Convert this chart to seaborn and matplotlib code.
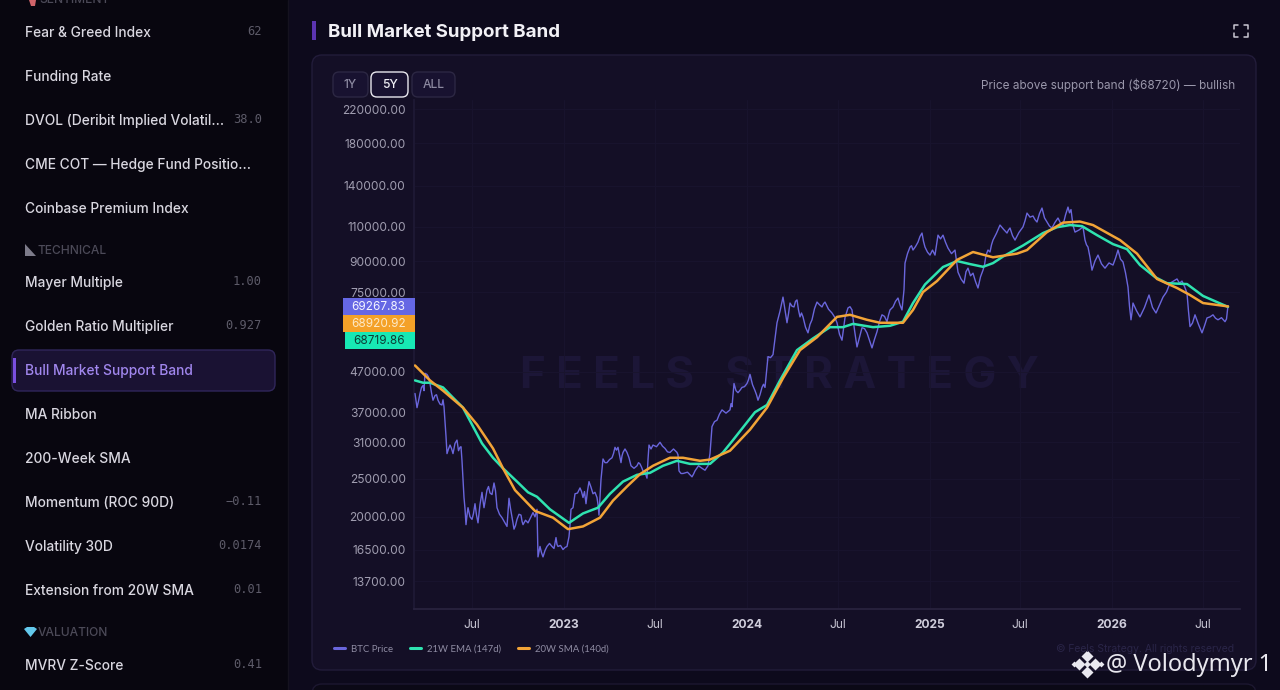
import numpy as np
import pandas as pd
import matplotlib
matplotlib.use("Agg")
import matplotlib.pyplot as plt
import matplotlib.dates as mdates
from matplotlib.patches import FancyBboxPatch, Rectangle, Polygon
from matplotlib.ticker import FixedLocator, FixedFormatter, NullLocator
import seaborn as sns

START = "2022-03-07"

price_days = [2,6,12,18,22,26,32,38,42,48,56,60,64,66,72,78,86,92,96,100,104,108,116,122,128,136,140,146,152,160,166,176,186,190,196,200,206,214,218,228,238,246,248,252,258,266,276,284,288,298,306,310,314,318,322,332,338,344,350,358,366,370,374,378,386,396,402,408,414,418,426,434,446,452,458,466,470,478,492,502,512,526,530,538,556,562,576,588,596,606,616,632,636,640,648,656,666,672,682,688,696,702,708,718,726,738,746,752,760,766,772,778,788,796,806,816,822,836,846,856,868,876,886,896,906,916,926,936,946,952,958,968,976,980,982,992,998,1008,1016,1022,1032,1042,1048,1058,1068,1082,1088,1100,1108,1118,1128,1138,1144,1152,1158,1172,1186,1192,1202,1218,1226,1238,1246,1256,1266,1276,1288,1298,1308,1314,1322,1338,1342,1348,1356,1368,1382,1398,1408,1418,1428,1434,1438,1452,1470,1484,1498,1512,1526,1536,1546,1552,1562,1576,1586,1598,1608,1622,1628]
price_values = [41300,38000,41300,43300,46500,46200,43800,39700,40800,39700,38600,38200,32100,29000,30500,29000,31400,30100,27800,22400,19100,21100,19700,21600,19300,23100,21100,23400,23000,24400,21100,19900,18900,22300,20000,18600,19700,20200,19100,19300,20500,20900,15800,16800,15800,16800,16800,17700,16800,16500,16800,17800,20900,21100,22900,23700,22400,21600,24600,22900,22400,20200,24900,28100,27500,28300,30100,30100,27500,29200,29200,27000,27000,27300,26200,25100,30500,30500,31000,29900,29200,29200,26200,25800,25300,26200,26600,27000,34000,35300,37500,37500,38200,43800,41500,42800,43800,46200,42000,39700,42800,42800,51300,51900,62600,72800,62600,70300,68700,71600,64800,64800,59000,63700,70700,68700,70700,66300,62600,56500,68300,67500,54300,60800,59000,54000,59400,65600,63000,67500,68700,72400,67500,76000,88900,97700,96000,100600,106100,97700,93200,93200,104800,104800,97100,96000,84300,79000,86300,83800,76800,85300,93200,94900,101800,111200,106100,109300,101800,110000,119300,117300,113200,122900,113200,109300,115900,111200,123600,121800,106700,110000,101800,97700,85300,93200,86300,87900,96000,89500,77200,63700,70300,64800,73700,66300,72800,79000,81000,80000,74500,61200,65600,59000,64400,65600,63700,63000,69268]

# finer wiggles of the price line, read between the turning points above
price_more_days = [
    9,15,20,29,35,45,52,58,69,75,
    82,89,94,102,106,112,119,125,132,138,
    143,149,156,163,171,181,188,193,198,203,
    210,216,223,233,242,255,262,271,280,286,
    293,302,312,320,327,335,341,347,354,362,
    368,376,382,391,399,405,411,416,422,430,
    440,449,455,462,468,474,485,497,507,519,
    528,534,547,552,559,569,582,592,601,611,
    624,634,644,652,661,669,677,685,692,699,
    705,713,722,732,742,749,756,763,769,775,
    783,792,801,811,819,829,841,851,862,872,
    881,891,901,911,921,931,941,949,963,972,
    987,995,1003,1012,1019,1027,1037,1045,1053,1063,
    1075,1085,1094,1104,1113,1123,1133,1141,1148,1155,
    1165,1179,1189,1197,1210,1222,1232,1242,1251,1261,
    1271,1282,1293,1303,1311,1318,1330,1345,1352,1362,
    1375,1390,1403,1413,1423,1431,1436,1445,1461,1477,
    1491,1505,1519,1531,1541,1549,1557,1569,1581,1592,
    1603,1615,1625]
price_more_values = [
    39500,42800,42000,45500,41500,41000,38800,39800,29800,29900,
    30800,29500,30200,21000,20200,20000,20400,20200,21500,22000,
    22200,23900,22800,23300,20300,19400,20500,21000,19300,19000,
    20300,19500,19600,19900,20000,16200,16400,17100,16600,17000,
    16900,16700,19000,22000,23000,23200,23200,23300,23800,23100,
    21500,26500,27500,28000,29000,29600,28800,28600,29800,28300,
    26600,27500,26800,26000,28000,29800,30200,30300,29300,29800,
    28800,25800,26000,25600,25700,27000,26300,29000,35000,36600,
    36800,38900,42000,42100,43000,44800,43500,41000,41000,43600,
    47000,51000,57000,67000,67500,66000,69000,71000,67500,66300,
    61000,62000,68000,69600,70000,67800,64800,58500,64500,68800,
    60000,57500,60500,56500,56800,63000,65000,65500,71000,69500,
    94000,98500,98000,104000,101000,94800,96000,99000,102500,100500,
    94000,90000,81000,84500,82500,79800,82000,88000,96000,99000,
    106000,108500,108000,104500,106500,114000,116500,114800,119000,116000,
    110500,113000,112500,118000,119500,111000,108000,99000,92000,90000,
    88500,89000,91500,91000,84000,69000,66500,67200,68500,68500,
    69500,75000,80000,79000,77500,67000,62500,62000,61500,64800,
    64300,64500,64000]

ema_days = [2,18,32,58,78,98,116,136,158,178,206,228,246,272,310,338,368,392,418,446,472,498,526,552,592,618,638,682,706,732,766,798,832,858,878,918,952,978,998,1022,1058,1086,1112,1138,1158,1178,1218,1258,1286,1312,1336,1366,1398,1426,1452,1482,1506,1546,1578,1628]
ema_values = [44600,44000,44000,42800,40300,38000,34400,30800,28300,26600,24600,23100,22500,20900,19300,20400,21100,22900,24600,25600,25900,27000,27800,27300,27300,29200,31400,37000,38600,44600,53300,57100,61000,61000,62200,61000,61500,63000,70300,78400,86900,90000,88400,87000,88900,92400,98600,106100,109800,111200,110500,104800,99400,96500,87900,81900,79000,78600,73300,68720]

sma_days = [2,32,58,98,126,158,178,202,242,278,308,338,372,398,426,452,478,512,538,572,592,632,672,706,738,772,806,846,872,906,932,978,998,1018,1046,1086,1118,1158,1206,1226,1266,1298,1332,1358,1412,1446,1486,1526,1552,1578,1628]
sma_values = [48700,44600,42000,38000,34400,29900,26600,23400,20700,19900,18600,18900,19900,22000,23900,25700,27000,28300,28300,27800,28000,29500,33400,38000,45200,53300,57500,64800,65600,63700,62600,62600,67500,75000,80000,90600,94900,92000,94000,96000,106700,112800,113500,111200,101800,94000,81000,76800,73700,70300,68921]

y_ticks = [13700,16500,20000,25000,31000,37000,47000,75000,90000,110000,140000,180000,220000]
x_tick_dates = ["2022-07-01","2023-01-01","2023-07-01","2024-01-01","2024-07-01","2025-01-01","2025-07-01","2026-01-01","2026-07-01"]
x_tick_labels = ["Jul","2023","Jul","2024","Jul","2025","Jul","2026","Jul"]
series_names = ["BTC Price","21W EMA (147d)","20W SMA (140d)"]
last_values = ["69267.83","68920.92","68719.86"]

menu_items = ["Fear & Greed Index","Funding Rate","DVOL (Deribit Implied Volatil...","CME COT — Hedge Fund Positio...","Coinbase Premium Index","Mayer Multiple","Golden Ratio Multiplier","Bull Market Support Band","MA Ribbon","200-Week SMA","Momentum (ROC 90D)","Volatility 30D","Extension from 20W SMA","MVRV Z-Score"]
menu_values = ["62","","38.0","","","1.00","0.927","","","","−0.11","0.0174","0.01","0.41"]
menu_y = [32,76,120,164,208,282,326,370,414,458,502,546,590,665]

C_PRICE, C_EMA, C_SMA = "#6a66dc", "#2fe3b0", "#f2a437"

sns.set_theme(style="dark")
plt.rcParams["font.family"] = ["Inter", "DejaVu Sans"]
plt.rcParams["axes.unicode_minus"] = False

def px(s):
    return s * 72 / 100

fig = plt.figure(figsize=(12.8, 6.9), dpi=100, facecolor="#07060f")
bg = fig.add_axes([0, 0, 1, 1], zorder=0)
bg.set_xlim(0, 1280); bg.set_ylim(690, 0); bg.axis("off")

bg.add_patch(Rectangle((288, 0), 992, 690, fc="#0d0a1c", ec="none"))
bg.add_patch(Rectangle((0, 0), 287, 690, fc="#08060f", ec="none"))
bg.plot([287.5, 287.5], [0, 690], color="#15121f", lw=1)
bg.add_patch(FancyBboxPatch((312, 55), 944, 615, boxstyle="round,pad=0,rounding_size=10", fc="#140f26", ec="#221c3a", lw=1))
bg.add_patch(FancyBboxPatch((312, 684), 944, 20, boxstyle="round,pad=0,rounding_size=10", fc="#0b0916", ec="#1c1730", lw=1))

# sidebar
bg.text(39, 0, "SENTIMENT", color="#4c4a58", fontsize=px(12), weight="medium", va="center")
bg.add_patch(Polygon([(29, 0), (36, 0), (35, 6), (31, 6)], fc="#d0646a", ec="none"))
bg.add_patch(FancyBboxPatch((12, 350), 263, 41, boxstyle="round,pad=0,rounding_size=7", fc="#1a1233", ec="#30265a", lw=1))
bg.add_patch(Rectangle((13, 358), 3, 25, fc="#7a4fe0", ec="none"))
for name, val, y in zip(menu_items, menu_values, menu_y):
    active = name == "Bull Market Support Band"
    bg.text(25, y + 1.3, name, color="#a187ee" if active else "#d9d7e0", fontsize=px(13.8), weight="medium", va="center", ha="left")
    if val:
        bg.text(262, y - 0.5, val, color="#5d5b69", fontsize=px(12), family="DejaVu Sans Mono", va="center", ha="right")
bg.add_patch(Polygon([(25, 244), (25, 256), (36, 256)], fc="#7d7b8a", ec="none"))
bg.text(38, 250.5, "TECHNICAL", color="#4c4a58", fontsize=px(12), weight="medium", va="center")
bg.add_patch(Polygon([(24, 629), (27, 627), (34, 627), (37, 629), (30.5, 637)], fc="#63c8ec", ec="none"))
bg.text(38, 632.5, "VALUATION", color="#4c4a58", fontsize=px(12), weight="medium", va="center")

# header
bg.add_patch(Rectangle((312, 21), 4, 19, fc="#5b34b0", ec="none"))
bg.text(328, 32.5, "Bull Market Support Band", color="#f2f1f6", fontsize=px(18.7), weight="bold", va="center")
for xs, ys in [((1234, 1234, 1238), (29, 25, 25)), ((1244, 1248, 1248), (25, 25, 29)),
               ((1234, 1234, 1238), (33, 37, 37)), ((1244, 1248, 1248), (37, 37, 33))]:
    bg.plot(xs, ys, color="#c9c8d2", lw=1.1)

# range buttons
for label, x0, w, active in [("1Y", 333, 35, False), ("5Y", 371, 37, True), ("ALL", 412, 43, False)]:
    bg.add_patch(FancyBboxPatch((x0, 72), w, 25, boxstyle="round,pad=0,rounding_size=6",
                                fc="#181230", ec="#e8e7ee" if active else "#2c2743", lw=1))
    bg.text(x0 + w / 2, 85, label, color="#f0eff5" if active else "#8c89a0", fontsize=px(12), weight="medium", ha="center", va="center")
bg.text(1235, 85.5, "Price above support band ($68720) — bullish", color="#9a97ab", fontsize=px(11.8), ha="right", va="center")

# chart
ax = fig.add_axes([414 / 1280, (690 - 609) / 690, 826 / 1280, 509 / 690], zorder=2)
ax.patch.set_alpha(0)

def to_dates(days):
    return pd.Timestamp(START) + pd.to_timedelta(np.array(days), unit="D")

all_days = np.array(price_days + price_more_days)
all_values = np.array(price_values + price_more_values)
order = np.argsort(all_days)

ax.text(0.443, 0.456, "F E E L S   S T R A T E G Y", transform=ax.transAxes, color="#1c1637",
        fontsize=px(44), weight="bold", ha="center", va="center", zorder=0)
sns.lineplot(x=to_dates(all_days[order]), y=all_values[order], ax=ax, color=C_PRICE, lw=1.0, label=series_names[0], estimator=None, zorder=3)
sns.lineplot(x=to_dates(ema_days), y=ema_values, ax=ax, color=C_EMA, lw=1.8, label=series_names[1], estimator=None, zorder=4)
sns.lineplot(x=to_dates(sma_days), y=sma_values, ax=ax, color=C_SMA, lw=1.8, label=series_names[2], estimator=None, zorder=5)

ax.set_yscale("log")
ax.set_ylim(11630, 232000)
ax.set_xlim(pd.Timestamp(START), pd.Timestamp(START) + pd.Timedelta(days=1652))
ax.yaxis.set_major_locator(FixedLocator(y_ticks))
ax.yaxis.set_major_formatter(FixedFormatter([f"{v:.2f}" for v in y_ticks]))
ax.yaxis.set_minor_locator(NullLocator())
ax.xaxis.set_major_locator(FixedLocator(mdates.date2num(pd.to_datetime(x_tick_dates))))
ax.xaxis.set_major_formatter(FixedFormatter(x_tick_labels))
ax.tick_params(axis="y", length=0, pad=6, labelsize=px(12), labelcolor="#a09db0")
ax.tick_params(axis="x", length=0, pad=7, labelsize=px(12), labelcolor="#c4c2d0")
for lab, txt in zip(ax.get_xticklabels(), x_tick_labels):
    if txt != "Jul":
        lab.set_fontweight("bold")
        lab.set_color("#d0cedc")
ax.grid(True, color="#19142e", lw=0.7)
ax.set_axisbelow(True)
ax.set_xlabel(""); ax.set_ylabel("")
for side in ("top", "right"):
    ax.spines[side].set_visible(False)
ax.spines["left"].set_color("#1f1a35")
ax.spines["bottom"].set_color("#29233f")

leg = ax.legend(loc="center left", bbox_to_anchor=(334 / 1280, (690 - 649) / 690), bbox_transform=fig.transFigure,
                ncol=3, frameon=False, prop={"family": "Lato", "size": px(9.7)},
                handlelength=1.15, handletextpad=0.6, columnspacing=1.75, borderpad=0, borderaxespad=0)
for line in leg.get_lines():
    line.set_linewidth(2.2)
for t in leg.get_texts():
    t.set_color("#8f8ca3")

# last-value tags
ov = fig.add_axes([0, 0, 1, 1], zorder=3)
ov.set_xlim(0, 1280); ov.set_ylim(690, 0); ov.axis("off"); ov.patch.set_alpha(0)
for val, x0, y0, h, fc, tc in [(last_values[0], 343, 298, 17, "#6567e4", "#f4f4ff"),
                               (last_values[1], 343, 315, 17, "#f4a128", "#fde9c6"),
                               (last_values[2], 345, 332, 16.5, "#17e8b4", "#0b3d36")]:
    ov.add_patch(Rectangle((x0, y0), 415 - x0, h, fc=fc, ec="none"))
    ov.text(378.5 if x0 == 343 else 379, y0 + h / 2 + 0.5, val, color=tc, fontsize=px(11.8), ha="center", va="center")

ov.text(1234, 649.5, "© Feels Strategy. All rights reserved", color="#2a2548", fontsize=px(10.4), ha="right", va="center")
lx, ly = 1087, 664
for dx, dy, s in [(0, -8, 6), (-8, 0, 6), (8, 0, 6), (0, 8, 6), (-13.5, 0, 3), (13.5, 0, 3), (0, 0, 3.5)]:
    ov.plot([lx + dx], [ly + dy], marker="D", ms=s, mfc="#e9e8ef", mec="none", ls="none")
ov.text(1106, 665, "@ Volodymyr 1", color="#e9e8ef", fontsize=px(23.6), ha="left", va="center", family="Noto Sans")

fig.savefig("out.png", dpi=100, facecolor=fig.get_facecolor())
